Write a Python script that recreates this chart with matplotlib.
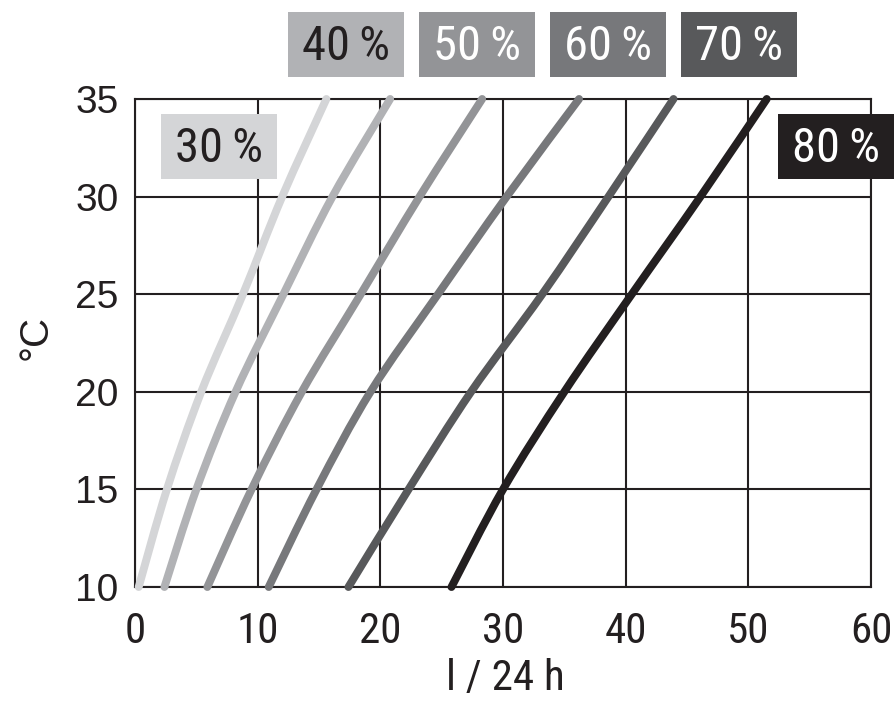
import matplotlib
matplotlib.use("Agg")
import matplotlib.pyplot as plt
from matplotlib import font_manager
from matplotlib.path import Path
from matplotlib.patches import PathPatch, Rectangle

# ---- data ----
temps = [10, 15, 20, 25, 30, 35]
rh_labels = ["30\u2009%", "40\u2009%", "50\u2009%", "60\u2009%", "70\u2009%", "80\u2009%"]
flow_30 = [0.3, 2.6, 5.4, 8.8, 12.0, 15.6]
flow_40 = [2.4, 5.0, 8.2, 12.1, 16.1, 20.8]
flow_50 = [5.9, 9.5, 13.6, 18.4, 23.2, 28.3]
flow_60 = [10.9, 14.8, 19.2, 24.7, 30.3, 36.2]
flow_70 = [17.4, 22.3, 27.4, 33.2, 38.6, 43.9]
flow_80 = [25.8, 30.0, 35.0, 40.5, 46.1, 51.5]
series = [flow_30, flow_40, flow_50, flow_60, flow_70, flow_80]
colors = ["#d4d5d7", "#b1b2b5", "#939497", "#77787b", "#58595b", "#231f20"]
text_colors = ["#231f20", "#231f20", "white", "white", "white", "white"]
x_ticks = [0, 10, 20, 30, 40, 50, 60]
y_ticks = [10, 15, 20, 25, 30, 35]

def pick(names):
    for n in names:
        try:
            font_manager.findfont(n, fallback_to_default=False)
            return n
        except Exception:
            pass
    return "DejaVu Sans"

narrow = pick(["Liberation Sans Narrow", "Roboto Condensed", "DejaVu Sans"])
regular = pick(["Liberation Sans", "Arial", "DejaVu Sans"])
dark = "#231f20"

def smooth_path(xs, ys):
    # Catmull-Rom spline through the data points rendered as cubic Bezier path
    pts = list(zip(xs, ys))
    verts = [pts[0]]
    codes = [Path.MOVETO]
    n = len(pts)
    for i in range(n - 1):
        p0 = pts[i - 1] if i > 0 else pts[i]
        p1 = pts[i]
        p2 = pts[i + 1]
        p3 = pts[i + 2] if i + 2 < n else pts[i + 1]
        c1 = (p1[0] + (p2[0] - p0[0]) / 6, p1[1] + (p2[1] - p0[1]) / 6)
        c2 = (p2[0] - (p3[0] - p1[0]) / 6, p2[1] - (p3[1] - p1[1]) / 6)
        verts += [c1, c2, p2]
        codes += [Path.CURVE4] * 3
    return Path(verts, codes)

fig = plt.figure(figsize=(8.95, 7.09), dpi=100)
ax = fig.add_axes([135/895, 1-587/709, (871-135)/895, (587-99)/709])

for s, c in zip(series, colors):
    patch = PathPatch(smooth_path(s, temps), facecolor="none", edgecolor=c,
                      lw=5.7, capstyle="round", zorder=3, clip_on=False)
    ax.add_patch(patch)

ax.set_xlim(0, 60)
ax.set_ylim(10, 35)
ax.set_xticks(x_ticks)
ax.set_yticks(y_ticks)
ax.grid(True, color=dark, lw=1.5, zorder=1)
ax.set_axisbelow(True)
for sp in ax.spines.values():
    sp.set_color(dark)
    sp.set_linewidth(1.5)
ax.tick_params(length=0)
ax.tick_params(axis="x", pad=17)
ax.tick_params(axis="y", pad=12)
for lab in ax.get_xticklabels():
    lab.set_fontfamily(narrow)
    lab.set_fontsize(31)
    lab.set_color(dark)
for lab in ax.get_yticklabels():
    lab.set_fontfamily(regular)
    lab.set_fontsize(28)
    lab.set_color(dark)

fig.text(505/895, 1-690/709, "l / 24 h", family=narrow, fontsize=31,
         color=dark, ha="center", va="baseline")
fig.text(36/895, 1-337/709, "°C", family=regular, fontsize=29,
         color=dark, ha="center", va="center", rotation=90)

# label boxes (pixel centers)
box_centers = [(219, 147), (346, 45), (477, 45), (608, 45), (739, 45), (836, 147)]
for (cx, cy), lab, c, tc in zip(box_centers, rh_labels, colors, text_colors):
    fig.patches.append(Rectangle(
        ((cx-58)/895, 1-(cy+32)/709), 116/895, 65/709,
        transform=fig.transFigure, facecolor=c, edgecolor="none", zorder=5))
    fig.text(cx/895, 1-(cy+2)/709, lab, family=[narrow, "DejaVu Sans"], fontsize=35,
             color=tc, ha="center", va="center", zorder=6)

fig.savefig("out.png", dpi=100)
